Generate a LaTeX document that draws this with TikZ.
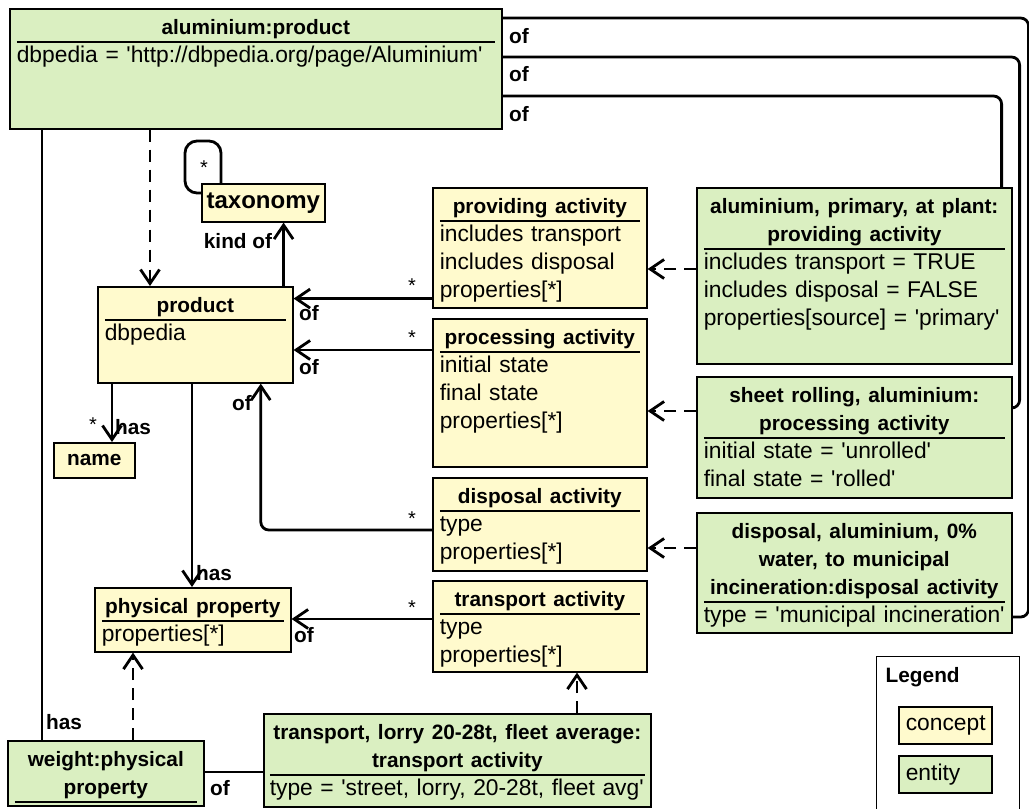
\documentclass[tikz,border=0pt]{standalone}
\usepackage{fontspec}
\setmainfont{Liberation Sans}[Ligatures=TeXOff]
\usetikzlibrary{arrows.meta, calc}

\definecolor{conceptfill}{RGB}{255,250,205}
\definecolor{entityfill}{RGB}{218,239,193}

\newcommand{\titlefont}{\fontsize{10.4}{14}\selectfont\bfseries}
\newcommand{\bodyfont}{\fontsize{11.4}{14}\selectfont}
\newcommand{\ctitle}[1]{{\centering\titlefont #1\strut\par}\vskip-1pt\hrule height 0.8pt\relax}

\tikzset{
    cls/.style={draw=black, line width=0.8pt, anchor=north west, align=left,
        inner xsep=3.5pt, inner ysep=3.2pt, text height=9.8pt, font=\bodyfont},
    concept/.style={cls, fill=conceptfill},
    entity/.style={cls, fill=entityfill},
    tag/.style={draw=black, line width=0.8pt, fill=conceptfill, anchor=north west, inner sep=0pt},
    key/.style={draw=black, line width=0.8pt, anchor=north west, align=left, font=\bodyfont,
        minimum width=46.5pt, minimum height=18.5pt, text width=39.5pt, inner xsep=3.5pt, inner ysep=0pt},
    line/.style={draw=black, line width=1.4pt},
    conn/.style={line, -{Straight Barb[length=7pt, width=9.5pt]}},
    dep/.style={conn, dash pattern=on 6pt off 4pt},
    lbl/.style={font=\titlefont, inner sep=0pt},
    star/.style={font=\fontsize{10}{12}\selectfont, inner sep=0pt}
}

\begin{document}
\begin{tikzpicture}[x=0.5pt, y=-0.5pt]

        \useasboundingbox (0,0) rectangle (1029,809);
        \fill[white] (0,0) rectangle (1029,809);

        % --- entities ---
        \node[entity, text width=239pt, text depth=43.8pt] (alu) at (9,8)
            {\ctitle{aluminium:product}\strut dbpedia = 'http://dbpedia.org/page/Aluminium'};
        \node[entity, text width=150.5pt, text depth=71.8pt] (alprim) at (696,187)
            {\ctitle{aluminium, primary, at plant:\\providing activity}\strut includes transport = TRUE\\includes disposal = FALSE\\properties[source] = 'primary'};
        \node[entity, text width=150.5pt, text depth=44.3pt] (sheet) at (696,376)
            {\ctitle{sheet rolling, aluminium:\\processing activity}\strut initial state = 'unrolled'\\final state = 'rolled'};
        \node[entity, text width=150.5pt, text depth=43.8pt] (dispent) at (696,512)
            {\ctitle{disposal, aluminium, 0\%\\water, to municipal\\incineration:disposal activity}\strut \mbox{type = 'municipal incineration'}};
        \node[entity, inner xsep=3pt, text width=187.5pt, text depth=30.3pt] (lorry) at (263,713)
            {\ctitle{\makebox[\linewidth]{transport, lorry 20-28t, fleet average:}\\transport activity}\strut \mbox{type = 'street, lorry, 20-28t, fleet avg'}};
        \node[entity, text width=91pt, text depth=16.3pt] (wgt) at (7,740)
            {\ctitle{weight:physical\\property}};

        % --- concepts ---
        \node[concept, text width=90.5pt, text depth=31.8pt] (prod) at (97,286)
            {\ctitle{product}\strut dbpedia};
        \node[tag, minimum width=61.5pt, minimum height=19pt, font=\fontsize{12}{14}\selectfont\bfseries] (tax) at (201,183) {taxonomy};
        \node[tag, minimum width=40.5pt, minimum height=17.5pt, font=\titlefont] (name) at (53,442) {name};
        \node[concept, text width=91pt, text depth=15.8pt] (phys) at (94,587)
            {\ctitle{physical property}\strut properties[*]};
        \node[concept, text width=100pt, text depth=43.8pt] (prov) at (432,187)
            {\ctitle{providing activity}\strut includes transport\\includes disposal\\properties[*]};
        \node[concept, text width=100pt, text depth=57.8pt] (proc) at (432,318)
            {\ctitle{processing activity}\strut initial state\\final state\\properties[*]};
        \node[concept, text width=100pt, text depth=30.3pt] (disp) at (432,477)
            {\ctitle{disposal activity}\strut type\\properties[*]};
        \node[concept, text width=100pt, text depth=29.3pt] (trans) at (432,580)
            {\ctitle{transport activity}\strut type\\properties[*]};

        % --- legend ---
        \node[cls, fill=white, line width=0.7pt, inner xsep=4.5pt, text width=62.5pt, text depth=70.8pt] (legend) at (876,656)
            {\titlefont Legend};
        \node[key, fill=conceptfill] (keyconcept) at (898,706) {concept};
        \node[key, fill=entityfill] (keyentity) at (898,755) {entity};

        % --- links from aluminium:product ---
        \draw[line, rounded corners=4pt] ([yshift=-5pt]alu.north east) -- ++(526,0) |- ([yshift=-52.5pt]dispent.north east);
        \draw[line, rounded corners=4pt] ([yshift=-24.5pt]alu.north east) -- ++(517,0) |- ([yshift=-16pt]sheet.north east);
        \draw[line, rounded corners=4pt] ([yshift=-44pt]alu.north east) -| ([xshift=-5.5pt]alprim.north east);
        \node[lbl] (ofa) at (519,36) {of};
        \node[lbl] (ofb) at (519,74) {of};
        \node[lbl] (ofc) at (519,114) {of};

        \draw[dep] ([xshift=70.5pt]alu.south west) -- ([xshift=70.5pt]alu.south west |- prod.north);
        \draw[line] ([xshift=16.5pt]alu.south west) -- ([xshift=16.5pt]alu.south west |- wgt.north);
        \node[lbl] (haswgt) at (64,722) {has};

        % --- taxonomy ---
        \draw[line, rounded corners=6pt] ([xshift=10pt]tax.north west) -- ++(0,-42) -- ++(-36,0) |- ([yshift=-5pt]tax.north west);
        \node[star] (startax) at (204,168) {*};
        \draw[conn] ([xshift=-5pt]prod.north east) -- ([xshift=-5pt]prod.north east |- tax.south);
        \node[lbl] (kindof) at (238,241) {kind of};

        % --- product relations ---
        \draw[conn] ([xshift=7.5pt]prod.south west) -- ([xshift=7.5pt]prod.south west |- name.north);
        \node[star] (starname) at (93,425) {*};
        \node[lbl] (hasname) at (133,427) {has};
        \draw[conn] ([xshift=47.5pt]prod.south west) -- ([xshift=47.5pt]prod.south west |- phys.north);
        \node[lbl] (hasphys) at (214,573) {has};

        % --- activities ---
        \draw[conn] ([yshift=5pt]prov.south west) -- ([yshift=5pt]prov.south west -| prod.east);
        \node[star] (starprov) at (412,286) {*};
        \node[lbl] (ofprov) at (309,313) {of};
        \draw[conn] ([yshift=-16pt]proc.north west) -- ([yshift=-16pt]proc.north west -| prod.east);
        \node[star] (starproc) at (412,338) {*};
        \node[lbl] (ofproc) at (309,367) {of};
        \draw[conn, rounded corners=4pt] ([yshift=-26.5pt]disp.north west) -| ([xshift=32.75pt]prod.south);
        \node[star] (stardisp) at (412,519) {*};
        \node[lbl] (ofdisp) at (242,403) {of};
        \draw[conn] ([yshift=-19.5pt]trans.north west) -- ([yshift=-19.5pt]trans.north west -| phys.east);
        \node[star] (startrans) at (412,608) {*};
        \node[lbl] (oftrans) at (304,635) {of};

        % --- instance of ---
        \draw[dep] ([yshift=-41pt]alprim.north west) -- ([yshift=-41pt]alprim.north west -| prov.east);
        \draw[dep] ([yshift=-17.5pt]sheet.north west) -- ([yshift=-17.5pt]sheet.north west -| proc.east);
        \draw[dep] ([yshift=-18pt]dispent.north west) -- ([yshift=-18pt]dispent.north west -| disp.east);
        \draw[dep] ([xshift=157pt]lorry.north west) -- ([xshift=157pt]lorry.north west |- trans.south);
        \draw[dep] ([xshift=63pt]wgt.north west) -- ([xshift=63pt]wgt.north west |- phys.south);

        % weight of transport
        \draw[line] ([yshift=-16pt]wgt.north east) -- ([yshift=-16pt]wgt.north east -| lorry.west);
        \node[lbl] (oflorry) at (220,788) {of};

    \end{tikzpicture}
\end{document}
